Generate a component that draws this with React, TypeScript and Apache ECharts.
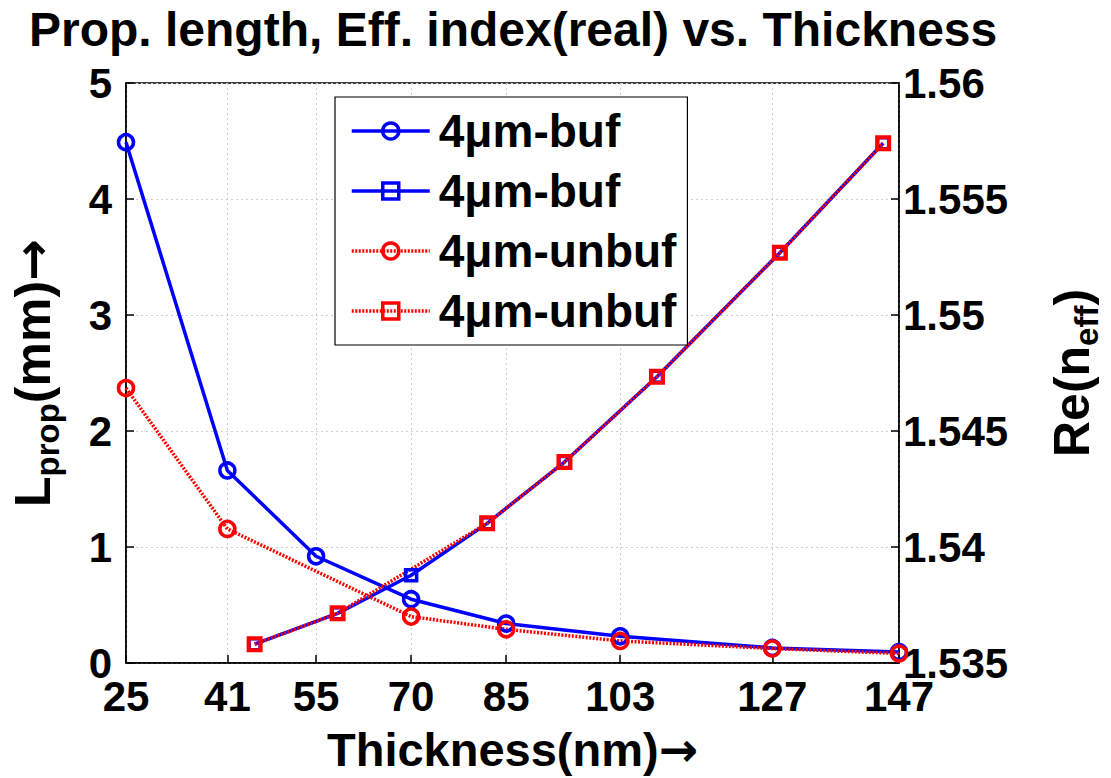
import React, { useEffect, useRef } from 'react';
import * as echarts from 'echarts';

// Tick values on the thickness axis (nm)
const xTicks = [25, 41, 55, 70, 85, 103, 127, 147];

// Propagation length (mm), buffered
const thickLBuf = [25, 41, 55, 70, 85, 103, 127, 147];
const lpropBuf = [4.49, 1.66, 0.92, 0.55, 0.34, 0.23, 0.13, 0.095];

// Propagation length (mm), unbuffered
const thickLUnbuf = [25, 41, 70, 85, 103, 127, 147];
const lpropUnbuf = [2.37, 1.156, 0.4, 0.29, 0.19, 0.125, 0.082];

// Re(n_eff), buffered
const thickNBuf = [45.3, 58.4, 70, 82, 94.2, 108.8, 128.2, 144.5];
const neffBuf = [1.53581, 1.53714, 1.53878, 1.54102, 1.54366, 1.54734, 1.55268, 1.5574];

// Re(n_eff), unbuffered
const thickNUnbuf = [45.3, 58.4, 82, 94.2, 108.8, 128.2, 144.5];
const neffUnbuf = [1.53581, 1.53714, 1.54102, 1.54366, 1.54734, 1.55268, 1.5574];

const legendLabels: Record<string, string> = {
  bufL: '4μm-buf',
  bufN: '4μm-buf',
  unbufL: '4μm-unbuf',
  unbufN: '4μm-unbuf',
};

const FONT = '"Liberation Sans", Arial, Helvetica, sans-serif';
const BLUE = '#0000ff';
const RED = '#ff0000';

const zip = (xs: number[], ys: number[]) => xs.map((x, i) => [x, ys[i]]);

export default function App() {
  const ref = useRef<HTMLDivElement>(null);

  useEffect(() => {
    const chart = echarts.init(ref.current!, null, { renderer: 'svg' });
    const gridLine = { show: true, lineStyle: { color: '#cfcfcf', type: [2, 3], width: 1 } };
    const axisLine = { show: true, onZero: false, lineStyle: { color: '#000', width: 1.5 } };
    const tickStyle = { color: '#000', width: 1.5 };
    const labelStyle = { fontSize: 42, fontWeight: 'bold', color: '#000', fontFamily: FONT };
    const mk = (size: number, sub: number) => ({
      a: { fontSize: size, fontWeight: 'bold', color: '#000', fontFamily: FONT, lineHeight: size + 12, verticalAlign: 'middle' },
      b: { fontSize: sub, fontWeight: 'bold', color: '#000', fontFamily: FONT, lineHeight: 20, verticalAlign: 'bottom' },
      c: { fontSize: size, fontWeight: 'bold', color: '#000', fontFamily: '"DejaVu Sans", sans-serif', lineHeight: size + 12, verticalAlign: 'middle' },
    });

    const circleStyle = (c: string) => ({ color: 'rgba(0,0,0,0)', borderColor: c, borderWidth: 3.5 });

    chart.setOption({
      animation: false,
      backgroundColor: '#fff',
      title: {
        text: 'Prop. length, Eff. index(real) vs. Thickness',
        left: 24,
        top: 0,
        textStyle: { fontSize: 48, fontWeight: 'bold', color: '#000', fontFamily: FONT },
      },
      grid: {
        left: 124,
        top: 83,
        width: 780,
        height: 584,
        show: true,
        borderColor: '#000',
        borderWidth: 1.5,
        backgroundColor: 'rgba(0,0,0,0)',
      },
      legend: {
        orient: 'vertical',
        left: 335,
        top: 97,
        padding: [11, 11, 11, 15],
        itemWidth: 78,
        itemHeight: 20,
        itemGap: 14,
        borderColor: '#000',
        borderWidth: 1.2,
        backgroundColor: '#fff',
        selectedMode: false,
        data: ['bufL', 'bufN', 'unbufL', 'unbufN'],
        formatter: (name: string) => legendLabels[name],
        lineStyle: { width: 3.5 },
        itemStyle: { borderWidth: 3.5 },
        textStyle: { fontSize: 46, fontWeight: 'bold', color: '#000', fontFamily: FONT, lineHeight: 46, padding: [0, 0, 0, 4] },
      },
      xAxis: {
        type: 'value',
        min: 25,
        max: 147,
        axisLine,
        axisTick: { show: true, inside: true, length: 8, customValues: xTicks, lineStyle: tickStyle },
        axisLabel: { ...labelStyle, margin: 12, customValues: xTicks },
        splitLine: gridLine,
        name: '{a|Thickness(nm)}{c|→}',
        nameLocation: 'middle',
        nameGap: 57,
        nameTextStyle: { rich: mk(47, 32) },
      },
      yAxis: [
        {
          type: 'value',
          position: 'left',
          min: 0,
          max: 5,
          interval: 1,
          axisLine,
          axisTick: { show: true, inside: true, length: 8, lineStyle: tickStyle },
          axisLabel: { ...labelStyle, margin: 14 },
          splitLine: gridLine,
          name: '{a|L}{b|prop}{a|(mm)}{c|→}',
          nameLocation: 'middle',
          nameRotate: 90,
          nameGap: 62,
          nameTextStyle: { rich: mk(50, 33) },
        },
        {
          type: 'value',
          position: 'right',
          min: 1.535,
          max: 1.56,
          interval: 0.005,
          axisLine,
          axisTick: { show: true, inside: true, length: 8, lineStyle: tickStyle },
          axisLabel: { ...labelStyle, margin: 4, formatter: (v: number) => String(+v.toFixed(3)) },
          splitLine: { show: false },
          name: '{a|Re(n}{b|eff}{a|)}',
          nameLocation: 'middle',
          nameRotate: 90,
          nameGap: 142,
          nameTextStyle: { rich: mk(50, 33) },
        },
      ],
      series: [
        {
          name: 'bufL',
          type: 'line',
          yAxisIndex: 0,
          data: zip(thickLBuf, lpropBuf),
          symbol: 'circle',
          symbolSize: 15,
          showAllSymbol: true,
          itemStyle: circleStyle(BLUE),
          lineStyle: { color: BLUE, width: 3.5, type: 'solid' },
          emphasis: { disabled: true },
        },
        {
          name: 'bufN',
          type: 'line',
          yAxisIndex: 1,
          data: zip(thickNBuf, neffBuf),
          symbol: 'rect',
          symbolSize: 11,
          showAllSymbol: true,
          itemStyle: circleStyle(BLUE),
          lineStyle: { color: BLUE, width: 3.5, type: 'solid' },
          emphasis: { disabled: true },
        },
        {
          name: 'unbufL',
          type: 'line',
          yAxisIndex: 0,
          data: zip(thickLUnbuf, lpropUnbuf),
          symbol: 'circle',
          symbolSize: 15,
          showAllSymbol: true,
          itemStyle: circleStyle(RED),
          lineStyle: { color: RED, width: 3.5, type: [2, 1.5] },
          emphasis: { disabled: true },
        },
        {
          name: 'unbufN',
          type: 'line',
          yAxisIndex: 1,
          data: zip(thickNUnbuf, neffUnbuf),
          symbol: 'rect',
          symbolSize: 12,
          showAllSymbol: true,
          itemStyle: { color: 'rgba(0,0,0,0)', borderColor: RED, borderWidth: 4 },
          lineStyle: { color: RED, width: 3.5, type: [2, 1.5] },
          emphasis: { disabled: true },
        },
      ],
    });
    return () => chart.dispose();
  }, []);

  return (
    <div
      ref={ref}
      style={{ position: 'absolute', left: 0, top: 0, width: 1111, height: 778, background: '#fff' }}
    />
  );
}
